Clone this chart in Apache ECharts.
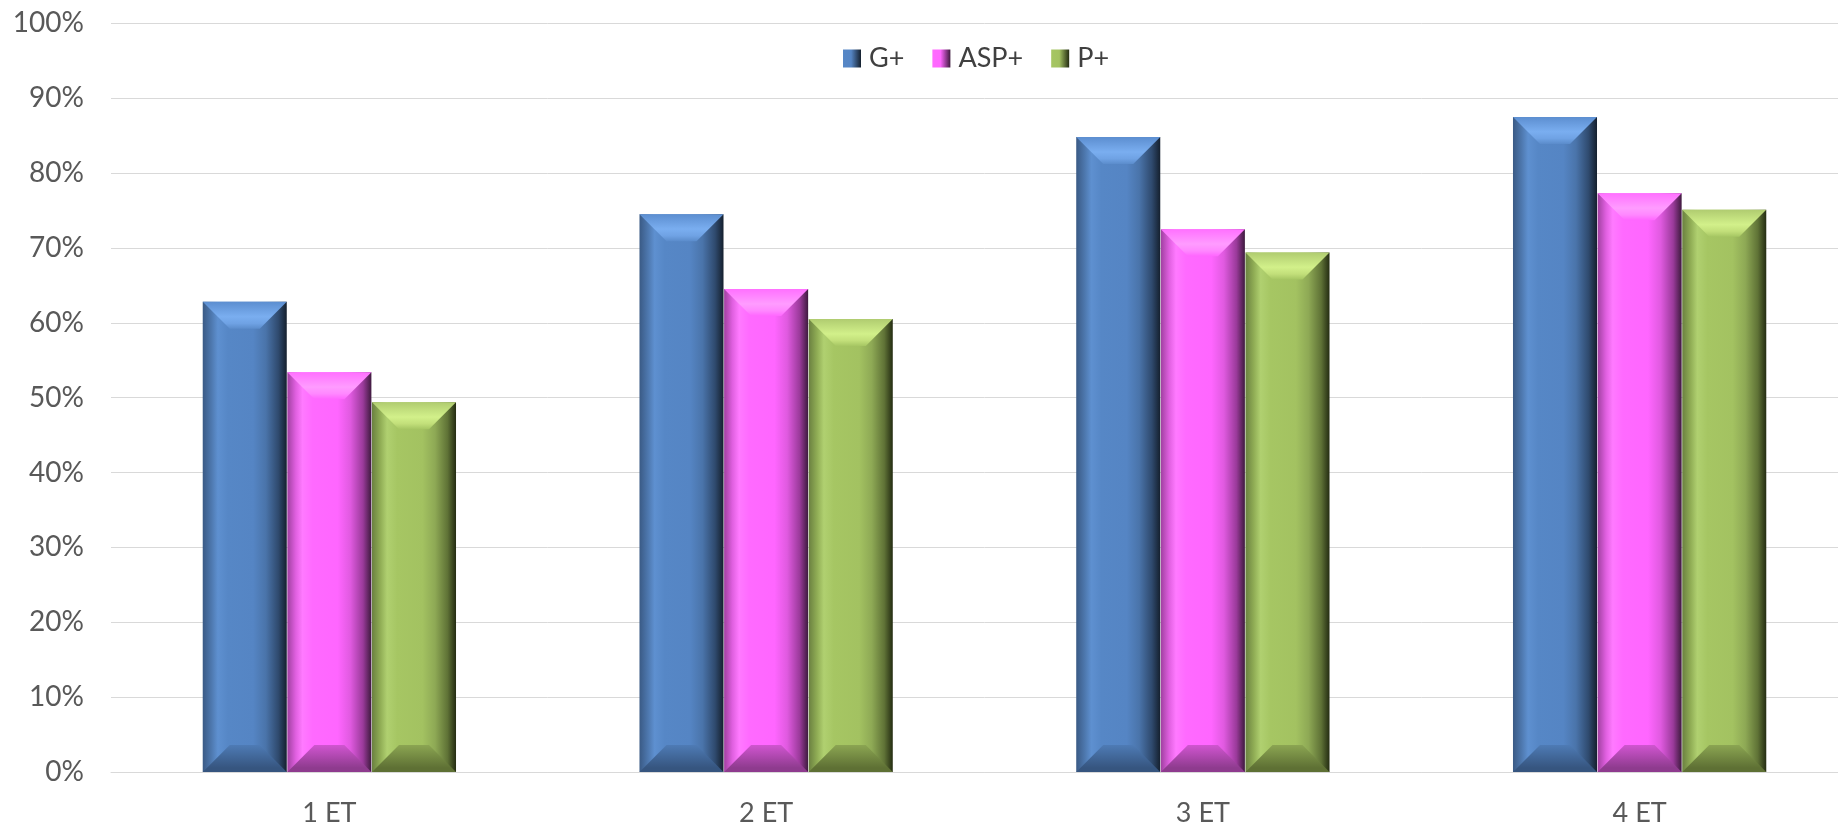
<!DOCTYPE html>
<html>
<head>
<meta charset="utf-8">
<script src="https://cdn.jsdelivr.net/npm/echarts@6/dist/echarts.min.js"></script>
<style>
html,body{margin:0;padding:0;background:#fff;overflow:hidden;}
#chart{width:1858px;height:827px;}
</style>
</head>
<body>
<div id="chart"></div>
<script>
const categories = ['1 ET', '2 ET', '3 ET', '4 ET'];
const seriesNames = ['G+', 'ASP+', 'P+'];
const gPlus = [62.8, 74.5, 84.8, 87.5];
const aspPlus = [53.4, 64.5, 72.5, 77.3];
const pPlus = [49.4, 60.5, 69.4, 75.1];
const yTicks = [0, 10, 20, 30, 40, 50, 60, 70, 80, 90, 100];

const palettes = [
  { body: ['#3A5A85', '#4D77AD', '#5E90D0', '#5687C6', '#5585C4', '#4A74AA', '#2F4A6E', '#15202E'],
    top: ['#5C8ED0', '#7AAEF0', '#6FA2E4', '#5B8CCB'],
    bottom: ['#4E7BB5', '#36557F'] },
  { body: ['#A040A0', '#E060E0', '#FF7AFF', '#FF6AFF', '#FF66FF', '#E05AE0', '#9A3A9A', '#3E1A3E'],
    top: ['#FF70FF', '#FF9CFF', '#FF88FF', '#FF66FF'],
    bottom: ['#D055D0', '#8E3B8E'] },
  { body: ['#6A8040', '#90AD55', '#B0D070', '#A6C663', '#A3C261', '#8EA955', '#5F7236', '#242C12'],
    top: ['#B0CC70', '#D2F08A', '#C2DF7A', '#A6C663'],
    bottom: ['#8BA552', '#5E7034'] }
];
const bodyOffsets = [0, 0.1, 0.18, 0.3, 0.6, 0.75, 0.9, 1];
const FONT = 'Lato, "Liberation Sans", sans-serif';

function lg(x, y, x2, y2, colors, offsets) {
  return new echarts.graphic.LinearGradient(x, y, x2, y2,
    colors.map((c, i) => ({ offset: offsets ? offsets[i] : i / (colors.length - 1), color: c })));
}

function makeRender(si) {
  const p = palettes[si];
  return function (params, api) {
    const xi = api.value(0), v = api.value(1);
    const base = api.coord([xi, 0]);
    const top = api.coord([xi, v]);
    const band = api.size([1, 0])[0];
    const bw = band * 0.1924;
    const cx = base[0] + (si - 1) * (bw + 0.6);
    const x0 = cx - bw / 2, x1 = cx + bw / 2;
    const yT = top[1], yB = base[1];
    const d = Math.min(27, (yB - yT) / 2);
    return {
      type: 'group',
      children: [
        { type: 'rect', shape: { x: x0, y: yT, width: bw, height: yB - yT },
          style: { fill: lg(0, 0, 1, 0, p.body, bodyOffsets) } },
        { type: 'polygon', shape: { points: [[x0, yT], [x1, yT], [x1 - d, yT + d], [x0 + d, yT + d]] },
          style: { fill: lg(0, 0, 0, 1, p.top, [0, 0.55, 0.8, 1]) } },
        { type: 'polygon', shape: { points: [[x0, yB], [x1, yB], [x1 - d, yB - d], [x0 + d, yB - d]] },
          style: { fill: lg(0, 0, 0, 1, [p.bottom[0], p.bottom[1], p.bottom[1]], [0, 0.85, 1]) } }
      ]
    };
  };
}

const seriesData = [gPlus, aspPlus, pPlus];
const chart = echarts.init(document.getElementById('chart'), null, { renderer: 'canvas' });
chart.setOption({
  animation: false,
  backgroundColor: '#ffffff',
  textStyle: { fontFamily: FONT },
  legend: {
    left: 843, top: 45, padding: 0,
    itemWidth: 18, itemHeight: 18, itemGap: 28,
    icon: 'rect',
    textStyle: { fontSize: 27, color: '#404040', padding: [0, 0, 0, 3], fontFamily: FONT },
    data: seriesNames.map((n, i) => ({
      name: n,
      itemStyle: { color: lg(0, 0, 1, 0, [palettes[i].body[3], palettes[i].body[4], palettes[i].body[7]], [0, 0.45, 1]) }
    }))
  },
  grid: { left: 111, top: 23.3, right: 0, height: 749, containLabel: false },
  xAxis: {
    type: 'category',
    data: categories,
    axisTick: { show: false },
    axisLine: { show: true, lineStyle: { color: '#D9D9D9', width: 1 } },
    axisLabel: { fontSize: 27, color: '#595959', margin: 28, fontFamily: FONT }
  },
  yAxis: {
    type: 'value',
    min: yTicks[0], max: yTicks[yTicks.length - 1], interval: 10,
    axisLine: { show: false },
    axisTick: { show: false },
    splitLine: { lineStyle: { color: '#D9D9D9', width: 1 } },
    axisLabel: { fontSize: 28, color: '#595959', margin: 27, formatter: '{value}%', fontFamily: FONT }
  },
  series: seriesNames.map((n, si) => ({
    name: n,
    type: 'custom',
    renderItem: makeRender(si),
    itemStyle: { color: palettes[si].body[4] },
    encode: { x: 0, y: 1 },
    data: seriesData[si].map((v, i) => [i, v])
  }))
});
</script>
</body>
</html>
